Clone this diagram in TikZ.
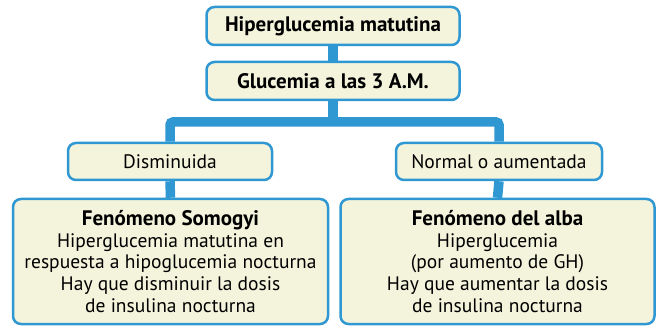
\documentclass[tikz,border=0pt]{standalone}
\usepackage{fontspec}
\setmainfont{PT Sans}
\usetikzlibrary{backgrounds}
\definecolor{azul}{HTML}{2F97D1}
\definecolor{crema}{HTML}{F4F4DC}
\begin{document}
\begin{tikzpicture}[x=1pt,y=1pt,
  caja/.style={draw=azul,fill=crema,line width=2.5pt,rounded corners=8pt,align=center,inner sep=0pt,font=\fontsize{19.5}{21.7}\selectfont},
  titulo/.style={font=\fontsize{21}{21.7}\selectfont\bfseries},
  enlace/.style={azul,line width=9.5pt,rounded corners=3pt}]
\useasboundingbox (0,0) rectangle (662,327);
% cajas
\node[caja,titulo,minimum width=253,minimum height=38] (hiper) at (333,301) {Hiperglucemia matutina};
\node[caja,titulo,minimum width=253,minimum height=38] (gluc) at (333,246) {Glucemia a las 3 A.M.};
\node[caja,minimum width=204,minimum height=37] (dism) at (170,165.5) {Disminuida};
\node[caja,minimum width=206,minimum height=37] (normal) at (499,165.5) {Normal o aumentada};
\node[caja,minimum width=315,minimum height=125] (somogyi) at (170.5,65.5) {{\fontsize{21}{21.7}\selectfont\bfseries Fenómeno Somogyi}\\Hiperglucemia matutina en\\respuesta a hipoglucemia nocturna\\Hay que disminuir la dosis\\de insulina nocturna};
\node[caja,minimum width=314,minimum height=125] (alba) at (497.5,65.5) {{\fontsize{21}{21.7}\selectfont\bfseries Fenómeno del alba}\\Hiperglucemia\\(por aumento de GH)\\Hay que aumentar la dosis\\de insulina nocturna};
% enlaces
\begin{scope}[on background layer]
\coordinate (barra) at (333,205);
\draw[enlace] (hiper.south) -- (gluc.north);
\draw[enlace] (gluc.south) -- (barra);
\draw[enlace] (dism.north) |- (barra) -| (normal.north);
\draw[enlace] (dism.south) -- (somogyi.north);
\draw[enlace] (normal.south) -- (alba.north);
\end{scope}
\end{tikzpicture}
\end{document}
